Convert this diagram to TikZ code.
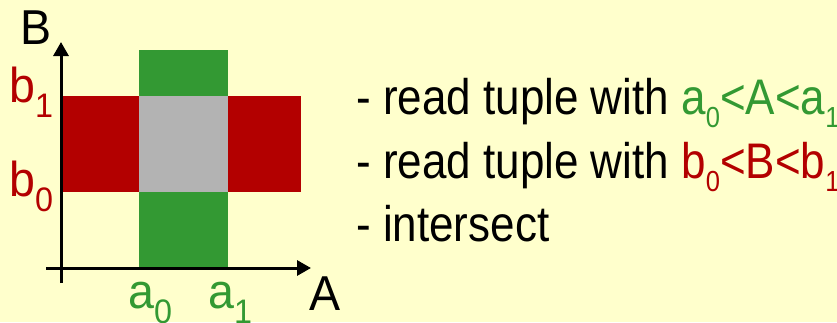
\documentclass[tikz,border=0pt]{standalone}
\usepackage{fontspec}
\setmainfont[FakeStretch=0.88]{Liberation Sans}
\newfontfamily\labelfont[FakeStretch=0.95]{Liberation Sans}
\usetikzlibrary{arrows.meta}

\definecolor{paper}{HTML}{FFFFCC}
\definecolor{rangeA}{HTML}{339933}
\definecolor{rangeB}{HTML}{B30000}
\definecolor{overlap}{HTML}{B3B3B3}

% subscripts set in text fonts (no math font)
\newcommand{\axsub}[1]{\raisebox{-15pt}{\fontsize{34}{34}\selectfont #1}}
\newcommand{\txsub}[1]{\raisebox{-13pt}{\fontsize{29}{29}\selectfont #1}}

\tikzset{
  axislabel/.style={inner sep=0pt, anchor=base west, font=\labelfont\fontsize{49}{49}\selectfont},
  itemtext/.style={inner sep=0pt, anchor=base west, font=\fontsize{50}{50}\selectfont},
  axisline/.style={line width=3pt, -{Triangle[width=15pt,length=14pt]}},
}

\begin{document}
\begin{tikzpicture}[x=1pt, y=-1pt]
  % canvas
  \fill[paper] (0,0) rectangle (837,322);
  \useasboundingbox (0,0) rectangle (837,322);

  % selection ranges
  \fill[rangeA] (139,50) rectangle (228,268);
  \fill[rangeB] (61,96) rectangle (301,192);
  \fill[overlap] (139,96) rectangle (228,192);

  % axes
  \coordinate (origin) at (61,268);
  \coordinate (ybot) at (61,283);
  \coordinate (ytop) at (61,42);
  \coordinate (xleft) at (46,268);
  \coordinate (xright) at (311,268);
  \draw[axisline] (ybot) -- (ytop);
  \draw[axisline] (xleft) -- (xright);

  % axis labels
  \node[axislabel] (labB) at (20,44) {B};
  \node[axislabel] (labA) at (309,310) {A};
  \node[axislabel, text=rangeB] (b1) at (9,102) {b\axsub{1}};
  \node[axislabel, text=rangeB] (b0) at (9,196) {b\axsub{0}};
  \node[axislabel, text=rangeA] (a0) at (128,308) {a\axsub{0}};
  \node[axislabel, text=rangeA] (a1) at (208,308) {a\axsub{1}};

  % steps
  \node[itemtext] (step1) at (356,114)
    {- read tuple with {\color{rangeA}a\txsub{0}<A<a\txsub{1}}};
  \node[itemtext] (step2) at (356,178)
    {- read tuple with {\color{rangeB}b\txsub{0}<B<b\txsub{1}}};
  \node[itemtext] (step3) at (356,241) {- intersect};
\end{tikzpicture}
\end{document}
